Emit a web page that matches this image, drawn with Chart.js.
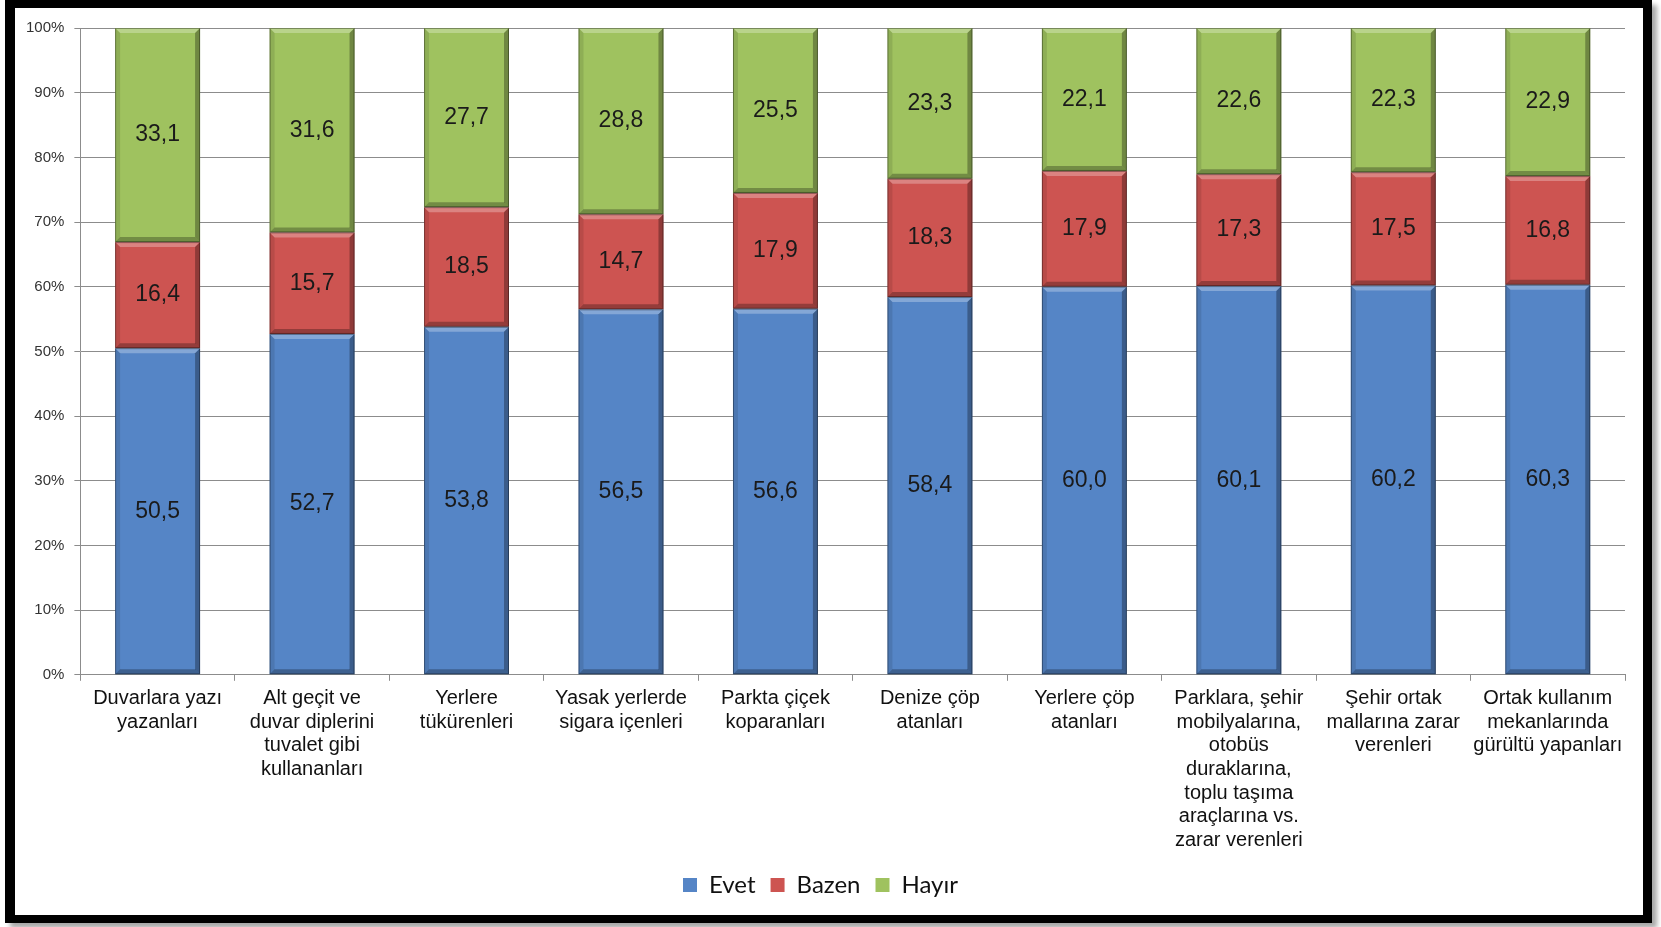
<!DOCTYPE html>
<html lang="tr">
<head>
<meta charset="utf-8">
<title>Evet / Bazen / Hayır</title>
<script src="https://cdn.jsdelivr.net/npm/chart.js@4.4.1/dist/chart.umd.min.js"></script>
<style>
    html, body {
        margin: 0;
        padding: 0;
        background: #ffffff;
        width: 1661px;
        height: 927px;
        overflow: hidden;
    }
    #frame {
        position: absolute;
        left: 5px;
        top: 0;
        width: 1628px;
        height: 907px;
        border-style: solid;
        border-color: #000;
        border-width: 8px 9px 8px 10px;
        box-shadow: 5px 5px 5px rgba(0, 0, 0, 0.35);
    }
    #wrap {
        position: absolute;
        left: 0;
        top: 0;
        width: 1661px;
        height: 927px;
    }
</style>
</head>
<body>
<div id="frame"></div>
<div id="wrap"><canvas id="barChart"></canvas></div>

<script>
// Kategoriler (satır satır bölünmüş etiketler)
const categories = [
    ["Duvarlara yazı", "yazanları"],
    ["Alt geçit ve", "duvar diplerini", "tuvalet gibi", "kullananları"],
    ["Yerlere", "tükürenleri"],
    ["Yasak yerlerde", "sigara içenleri"],
    ["Parkta çiçek", "koparanları"],
    ["Denize çöp", "atanları"],
    ["Yerlere çöp", "atanları"],
    ["Parklara, şehir", "mobilyalarına,", "otobüs", "duraklarına,", "toplu taşıma", "araçlarına vs.", "zarar verenleri"],
    ["Şehir ortak", "mallarına zarar", "verenleri"],
    ["Ortak kullanım", "mekanlarında", "gürültü yapanları"],
];

const evet = [50.5, 52.7, 53.8, 56.5, 56.6, 58.4, 60.0, 60.1, 60.2, 60.3];
const bazen = [16.4, 15.7, 18.5, 14.7, 17.9, 18.3, 17.9, 17.3, 17.5, 16.8];
const hayir = [33.1, 31.6, 27.7, 28.8, 25.5, 23.3, 22.1, 22.6, 22.3, 22.9];

const seriesNames = ["Evet", "Bazen", "Hayır"];
const yTickLabels = ["0%", "10%", "20%", "30%", "40%", "50%", "60%", "70%", "80%", "90%", "100%"];

const colors = ["#5585c6", "#cd5451", "#9fc25f"];

// Çubuklara kabartma efekti ve değer etiketleri
const bevelAndLabels = {
    id: "bevelAndLabels",
    afterDatasetsDraw(chart) {
        const ctx = chart.ctx;
        ctx.save();
        chart.data.datasets.forEach((ds, di) => {
            const meta = chart.getDatasetMeta(di);
            meta.data.forEach((bar) => {
                const p = bar.getProps(["x", "y", "base", "width"], true);
                const x0 = p.x - p.width / 2;
                const x1 = p.x + p.width / 2;
                const top = Math.min(p.y, p.base);
                const bottom = Math.max(p.y, p.base);
                const b = 5;

                // üst açık şerit
                ctx.fillStyle = "rgba(255,255,255,0.28)";
                ctx.beginPath();
                ctx.moveTo(x0, top);
                ctx.lineTo(x1, top);
                ctx.lineTo(x1 - b, top + b);
                ctx.lineTo(x0 + b, top + b);
                ctx.closePath();
                ctx.fill();

                // alt koyu şerit
                ctx.fillStyle = "rgba(0,0,0,0.28)";
                ctx.beginPath();
                ctx.moveTo(x0, bottom);
                ctx.lineTo(x1, bottom);
                ctx.lineTo(x1 - b, bottom - b);
                ctx.lineTo(x0 + b, bottom - b);
                ctx.closePath();
                ctx.fill();

                // sol kenar
                ctx.fillStyle = "rgba(0,0,0,0.10)";
                ctx.beginPath();
                ctx.moveTo(x0, top);
                ctx.lineTo(x0 + b, top + b);
                ctx.lineTo(x0 + b, bottom - b);
                ctx.lineTo(x0, bottom);
                ctx.closePath();
                ctx.fill();

                // sağ kenar
                ctx.fillStyle = "rgba(0,0,0,0.30)";
                ctx.beginPath();
                ctx.moveTo(x1, top);
                ctx.lineTo(x1 - b, top + b);
                ctx.lineTo(x1 - b, bottom - b);
                ctx.lineTo(x1, bottom);
                ctx.closePath();
                ctx.fill();

                ctx.strokeStyle = "rgba(0,0,0,0.35)";
                ctx.lineWidth = 1;
                ctx.strokeRect(x0 + 0.5, top + 0.5, p.width - 1, bottom - top - 1);
            });
        });

        ctx.fillStyle = "#1a1a1a";
        ctx.font = '23px "Liberation Sans", Arial, sans-serif';
        ctx.textAlign = "center";
        ctx.textBaseline = "middle";
        chart.data.datasets.forEach((ds, di) => {
            const meta = chart.getDatasetMeta(di);
            meta.data.forEach((bar, i) => {
                const p = bar.getProps(["x", "y", "base"], true);
                const text = ds.data[i].toFixed(1).replace(".", ",");
                ctx.fillText(text, p.x, (p.y + p.base) / 2);
            });
        });
        ctx.restore();
    },
};

function initializeChart() {
    const chartElement = document.getElementById("barChart");
    if (!chartElement) return;

    new Chart(chartElement, {
        type: "bar",
        data: {
            labels: categories,
            datasets: [evet, bazen, hayir].map((values, i) => ({
                label: seriesNames[i],
                data: values,
                backgroundColor: colors[i],
                borderWidth: 0,
                barPercentage: 0.55,
                categoryPercentage: 1.0,
            })),
        },
        options: {
            responsive: true,
            maintainAspectRatio: false,
            animation: false,
            layout: {
                padding: { left: 16, right: 36, top: 28, bottom: 20 },
            },
            scales: {
                x: {
                    stacked: true,
                    grid: {
                        offset: true,
                        drawOnChartArea: false,
                        drawTicks: true,
                        tickLength: 6,
                        color: "#8c8c8c",
                    },
                    border: { color: "#8c8c8c" },
                    ticks: {
                        color: "#111111",
                        font: { family: '"Liberation Sans", Arial, sans-serif', size: 20, lineHeight: 1.18 },
                        maxRotation: 0,
                        autoSkip: false,
                        padding: 6,
                    },
                },
                y: {
                    stacked: true,
                    min: 0,
                    max: 100,
                    grid: {
                        color: "#8c8c8c",
                        tickLength: 6,
                    },
                    border: { color: "#8c8c8c" },
                    ticks: {
                        stepSize: 10,
                        color: "#333333",
                        padding: 10,
                        font: { family: '"Liberation Sans", Arial, sans-serif', size: 15 },
                        callback: function (value) {
                            return yTickLabels[Math.round(value / 10)];
                        },
                    },
                },
            },
            plugins: {
                legend: {
                    position: "bottom",
                    labels: {
                        boxWidth: 14,
                        boxHeight: 14,
                        padding: 15,
                        color: "#111111",
                        font: { family: "Lato, sans-serif", size: 24 },
                    },
                },
                tooltip: { enabled: false },
            },
        },
        plugins: [bevelAndLabels],
    });
}

document.addEventListener("DOMContentLoaded", function () {
    if (typeof Chart === "undefined") {
        console.error("Chart.js is not loaded");
        return;
    }
    initializeChart();
});
</script>
</body>
</html>
